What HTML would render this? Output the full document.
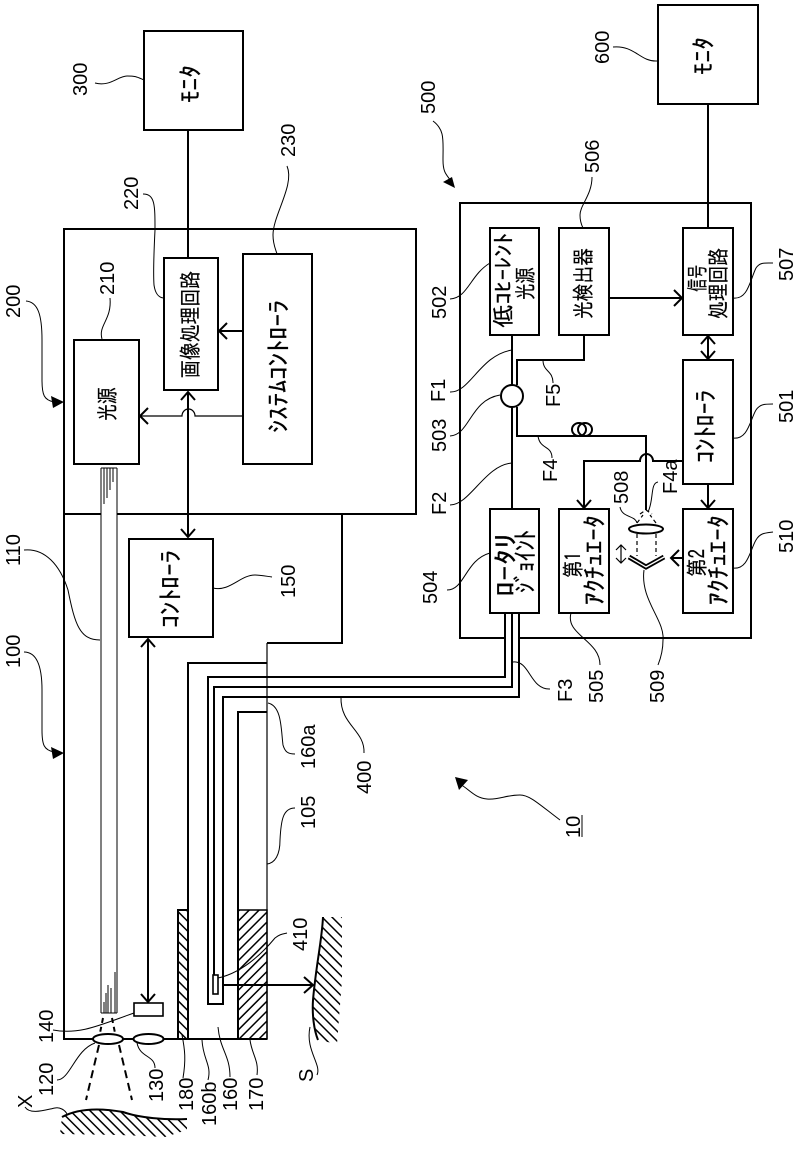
<!DOCTYPE html>
<html><head><meta charset="utf-8">
<style>
html,body{margin:0;padding:0;background:#fff}
svg{display:block}
.n{font-family:"Liberation Sans",sans-serif;font-size:20px;fill:#000}
.j{font-family:"IPAGothic","Noto Sans CJK JP",sans-serif;font-size:22px;fill:#000;stroke:#000;stroke-width:.25}
.k{font-size:25px}
.b{fill:#fff;stroke:#000;stroke-width:2}
.l{fill:none;stroke:#000;stroke-width:2}
.s{fill:none;stroke:#000;stroke-width:1.2}
.t{fill:none;stroke:#000;stroke-width:1}
</style></head><body>
<svg width="793" height="1151" viewBox="0 0 793 1151" xmlns="http://www.w3.org/2000/svg">
<defs>
<pattern id="hb" patternUnits="userSpaceOnUse" width="7" height="7" patternTransform="rotate(45)"><rect width="7" height="1.5" fill="#000"/></pattern>
<pattern id="hf" patternUnits="userSpaceOnUse" width="7" height="7" patternTransform="rotate(-45)"><rect width="7" height="1.5" fill="#000"/></pattern>
</defs>
<rect width="793" height="1151" fill="#fff"/>

<!-- surfaces -->
<path d="M62,1117 C75,1110 95,1107 123,1112 C140,1118 165,1120 187,1119 L187,1130 L165,1137 L120,1135 L60,1134Z" fill="url(#hb)"/>
<path class="l" d="M62,1117 C75,1110 95,1107 123,1112 C140,1118 165,1120 187,1119"/>
<path d="M323,917 C322,940 316,965 313,1000 C312,1015 314,1030 318,1040 L337,1044 L342,980 L342,917Z" fill="url(#hb)"/>
<path class="l" d="M323,917 C322,940 316,965 313,1000 C312,1015 314,1030 318,1040"/>

<!-- hatched blocks -->
<rect x="178" y="910" width="10" height="129" fill="url(#hb)" stroke="#000" stroke-width="2"/>
<rect x="238" y="910" width="29" height="129" fill="url(#hf)" stroke="#000" stroke-width="1.5"/>

<!-- unit 100 / 200 -->
<path class="l" d="M64,229H416V514H64Z"/>
<path class="l" d="M64,514V1039H267"/>
<path class="l" d="M416,514H342V643H267"/>
<path class="s" d="M267,643V1039"/>
<path class="l" d="M267,663H188V1039"/>
<path class="l" d="M267,712H238V1039"/>

<!-- fibre 110 -->
<rect x="101" y="468" width="16" height="545" fill="#fff"/>
<path class="t" d="M101,468V1013M117,468V1013M101,468H117M101,1013H117"/>
<path class="t" d="M104,468V504M107,468V498M110,468V490M113,468V482"/>
<path class="t" d="M104,1013V1002M106,1013V993M108,1013V985M111,1013V988M115,1013V972"/>

<!-- boxes left -->
<rect class="b" x="144" y="31" width="99" height="99"/>
<path class="l" d="M188,130V258"/>
<rect class="b" x="74" y="340" width="65" height="124"/>
<rect class="b" x="164" y="258" width="54" height="132"/>
<rect class="b" x="243" y="254" width="69" height="210"/>
<rect class="b" x="129" y="539" width="84" height="98" stroke-width="1.6"/>
<rect x="134" y="1003" width="29" height="13" fill="#fff" stroke="#000" stroke-width="1.6"/>

<!-- arrows left -->
<path class="l" d="M243,331H220M227,323L219,331L227,339"/>
<path class="s" d="M243,416H195A6.5,7 0 0 0 182,416H141"/>
<path class="l" d="M148,408L140,416L148,424"/>
<path class="l" d="M188,392V537M181,400L188,392L195,400M181,529L188,537L195,529"/>
<path class="l" d="M148,639V1002M141,647L148,639L155,647M141,994L148,1002L155,994"/>

<!-- fibre 400 -->
<path class="l" d="M505,613V677H208V1004H223V697H519V613"/>
<path class="l" d="M512,613V687H214V975"/>
<rect x="213" y="975" width="5" height="19" fill="#fff" stroke="#000" stroke-width="1.6"/>
<path class="l" d="M223,985H312M304,977L313,985L304,993"/>

<!-- lenses -->
<ellipse cx="108" cy="1039" rx="15" ry="5" fill="#fff" stroke="#000" stroke-width="2"/>
<ellipse cx="148.500" cy="1039" rx="15" ry="5" fill="#fff" stroke="#000" stroke-width="2"/>
<path class="l" stroke-dasharray="5 4" d="M103,1018L100,1033M112,1018L115,1033"/>
<path class="l" stroke-dasharray="8 5" d="M99,1045L86,1100M119,1045L132,1100"/>

<!-- unit 500 -->
<path class="l" d="M505,638H460V203H751V638H519"/>
<rect class="b" x="658" y="5" width="100" height="99"/>
<path class="l" d="M708,104V228"/>
<rect class="b" x="490" y="228" width="49" height="107"/>
<rect class="b" x="559" y="228" width="50" height="107"/>
<rect class="b" x="683" y="228" width="50" height="107"/>
<rect class="b" x="683" y="360" width="50" height="124"/>
<rect class="b" x="683" y="509" width="50" height="104"/>
<rect class="b" x="490" y="509" width="49" height="104"/>
<rect class="b" x="559" y="509" width="50" height="104"/>
<path class="l" d="M512,335V509"/>
<path class="l" d="M517,385V360H584V335"/>
<path class="l" d="M517,407V436H646V510"/>
<circle cx="512" cy="396" r="11" fill="#fff" stroke="#000" stroke-width="2"/>
<ellipse cx="579" cy="429.500" rx="7" ry="6.500" fill="none" stroke="#000" stroke-width="2"/>
<ellipse cx="585" cy="429.500" rx="7" ry="6.500" fill="none" stroke="#000" stroke-width="2"/>
<path class="l" d="M609,298H682M674,290L682,298L674,306"/>
<path class="l" d="M708,336V359M701,344L708,336L715,344M701,351L708,359L715,351"/>
<path class="l" d="M708,484V508M701,500L708,508L715,500"/>
<path class="l" d="M683,461H653A6.500,7 0 0 0 640,461H584V508M577,500L584,508L591,500"/>
<path class="l" d="M682,558H671M679,550L671,558L679,566"/>
<path class="s" stroke-width="1.6" d="M621,545V563M616,550L621,545L626,550M616,558L621,563L626,558"/>
<ellipse cx="646" cy="529" rx="17" ry="4.500" fill="#fff" stroke="#000" stroke-width="2"/>
<path class="s" stroke-dasharray="4 3" d="M637,534V556M656,534V556M637,523L643,515M656,523L650,515M640,514L646,510L652,514"/>
<path fill="none" stroke="#000" stroke-width="5" d="M629,557L646,567L664,557"/>
<path fill="none" stroke="#fff" stroke-width="1.300" d="M629,557L646,567L664,557"/>

<!-- leaders -->
<g class="t" fill="none" stroke="#000" stroke-width="1">
<path d="M95,83C110,87 118,76 127,76S137,77 144,80"/>
<path d="M613,47C635,45 640,62 657,61"/>
<path d="M433,121C445,130 443,140 443,160C443,175 448,175 452,183"/>
<path d="M592,177C592,195 580,205 580,215C580,222 582,226 583,228"/>
<path d="M450,299C468,298 470,275 490,263"/>
<path d="M733,298C748,300 750,280 756,268C760,262 765,263 773,263"/>
<path d="M733,438C748,440 750,420 756,410C760,404 765,404 773,404"/>
<path d="M733,568C748,570 750,550 756,540C760,533 765,533 773,532"/>
<path d="M450,392C470,393 480,355 512,350"/>
<path d="M450,436C470,435 470,400 500,395"/>
<path d="M450,505C470,505 485,465 512,463"/>
<path d="M543,360C543,372 553,370 553,383"/>
<path d="M538,436C540,450 552,445 552,458"/>
<path d="M658,482C650,483 654,500 648,512"/>
<path d="M620,507C622,518 635,515 637,523"/>
<path d="M644,570C640,600 665,620 663,640C663,650 660,660 658,665"/>
<path d="M447,590C465,590 465,560 490,553"/>
<path d="M571,613C565,635 600,640 600,665"/>
<path d="M513,662C530,660 530,690 550,689"/>
<path d="M287,166C295,185 273,215 273,235C273,245 276,250 277,254"/>
<path d="M143,194C155,194 155,205 155,230C154,250 153,270 154,285C155,292 158,298 164,298"/>
<path d="M110,298C112,320 98,325 102,339"/>
<path d="M26,301C38,302 42,315 42,340L42,380C42,395 44,400 54,402"/>
<path d="M24,550C45,548 60,565 68,590C75,625 80,640 100,640"/>
<path d="M24,652C36,652 42,665 42,690L42,730C42,745 44,750 54,752"/>
<path d="M213,588C230,592 240,575 255,575C260,575 265,576 272,577"/>
<path d="M268,703C282,706 281,730 283,745C285,752 288,754 295,754"/>
<path d="M341,697C340,725 365,730 364,753"/>
<path d="M295,808C283,808 281,820 280,840C280,855 275,863 267,864"/>
<path d="M560,820C540,805 530,795 520,795C505,795 500,800 487,799C475,798 470,790 460,784"/>
<path d="M53,1030C80,1035 100,1025 134,1013"/>
<path d="M57,1080C70,1080 75,1050 95,1043"/>
<path d="M137,1043C140,1058 155,1055 155,1068"/>
<path d="M182,1035C185,1050 186,1060 183,1078"/>
<path d="M202,1040C203,1060 212,1065 208,1080"/>
<path d="M218,1027C220,1050 230,1055 230,1077"/>
<path d="M250,1040C252,1055 259,1060 257,1075"/>
<path d="M218,978C245,972 265,950 275,938C280,934 283,934 287,933"/>
<path d="M317,1075C322,1065 305,1050 310,1027"/>
<path d="M25,1107C30,1115 45,1110 55,1108C60,1107 65,1110 67,1114"/>
<path d="M582,815V837"/>
</g>
<!-- filled arrowheads -->
<path d="M455,188L443,182L452,177Z"/>
<path d="M64,402L51,396L53,408Z"/>
<path d="M64,753L51,747L53,759Z"/>
<path d="M455,777L468,780L459,790Z"/>

<!-- number labels -->
<g class="n">
<text transform="translate(87,96) rotate(-90)">300</text>
<text transform="translate(609,64) rotate(-90)">600</text>
<text transform="translate(435,114) rotate(-90)">500</text>
<text transform="translate(599,173) rotate(-90)">506</text>
<text transform="translate(295,157) rotate(-90)">230</text>
<text transform="translate(138,210) rotate(-90)">220</text>
<text transform="translate(114,295) rotate(-90)">210</text>
<text transform="translate(20,318) rotate(-90)">200</text>
<text transform="translate(446,319) rotate(-90)">502</text>
<text transform="translate(793,281) rotate(-90)">507</text>
<text transform="translate(793,423) rotate(-90)">501</text>
<text transform="translate(793,553) rotate(-90)">510</text>
<text transform="translate(445,402) rotate(-90)">F1</text>
<text transform="translate(446,452) rotate(-90)">503</text>
<text transform="translate(560,407) rotate(-90)">F5</text>
<text transform="translate(557,482) rotate(-90)">F4</text>
<text transform="translate(677,494) rotate(-90)">F4a</text>
<text transform="translate(628,504) rotate(-90)">508</text>
<text transform="translate(446,515) rotate(-90)">F2</text>
<text transform="translate(437,604) rotate(-90)">504</text>
<text transform="translate(572,702) rotate(-90)">F3</text>
<text transform="translate(603,703) rotate(-90)">505</text>
<text transform="translate(664,703) rotate(-90)">509</text>
<text transform="translate(20,566) rotate(-90)">110</text>
<text transform="translate(20,668) rotate(-90)">100</text>
<text transform="translate(295,598) rotate(-90)">150</text>
<text transform="translate(315,769) rotate(-90)">160a</text>
<text transform="translate(315,829) rotate(-90)">105</text>
<text transform="translate(371,794) rotate(-90)">400</text>
<text transform="translate(580,838) rotate(-90)">10</text>
<text transform="translate(307,951) rotate(-90)">410</text>
<text transform="translate(313,1082) rotate(-90)">S</text>
<text transform="translate(53,1043) rotate(-90)">140</text>
<text transform="translate(53,1096) rotate(-90)">120</text>
<text transform="translate(163,1102) rotate(-90)">130</text>
<text transform="translate(193,1111) rotate(-90)">180</text>
<text transform="translate(216,1126) rotate(-90)">160b</text>
<text transform="translate(237,1111) rotate(-90)">160</text>
<text transform="translate(263,1111) rotate(-90)">170</text>
<text transform="translate(32,1108) rotate(-90)">X</text>
</g>

<!-- japanese labels -->
<g class="j">
<text class="k" transform="translate(199,103) rotate(-90)" textLength="38" lengthAdjust="spacingAndGlyphs">ﾓﾆﾀ</text>
<text class="k" transform="translate(712,75) rotate(-90)" textLength="38" lengthAdjust="spacingAndGlyphs">ﾓﾆﾀ</text>
<text transform="translate(198,378) rotate(-90)" textLength="107" lengthAdjust="spacingAndGlyphs">画像処理回路</text>
<text class="k" transform="translate(287,433) rotate(-90)" textLength="133" lengthAdjust="spacingAndGlyphs">ｼｽﾃﾑｺﾝﾄﾛｰﾗ</text>
<text transform="translate(115,421) rotate(-90)" textLength="34" lengthAdjust="spacingAndGlyphs">光源</text>
<text class="k" transform="translate(179,628) rotate(-90)" textLength="78" lengthAdjust="spacingAndGlyphs">ｺﾝﾄﾛｰﾗ</text>
<text transform="translate(511,328) rotate(-90)" textLength="95" lengthAdjust="spacingAndGlyphs">低ｺﾋｰﾚﾝﾄ</text>
<text transform="translate(533,300) rotate(-90)" textLength="33" lengthAdjust="spacingAndGlyphs">光源</text>
<text transform="translate(591,319) rotate(-90)" textLength="71" lengthAdjust="spacingAndGlyphs">光検出器</text>
<text transform="translate(705,292) rotate(-90)" textLength="27" lengthAdjust="spacingAndGlyphs">信号</text>
<text transform="translate(726,319) rotate(-90)" textLength="71" lengthAdjust="spacingAndGlyphs">処理回路</text>
<text class="k" transform="translate(714,463) rotate(-90)" textLength="73" lengthAdjust="spacingAndGlyphs">ｺﾝﾄﾛｰﾗ</text>
<text class="k" transform="translate(514,597) rotate(-90)" textLength="64" lengthAdjust="spacingAndGlyphs">ﾛｰﾀﾘ</text>
<text class="k" transform="translate(534,593) rotate(-90)" textLength="63" lengthAdjust="spacingAndGlyphs">ｼﾞｮｲﾝﾄ</text>
<text transform="translate(581,578) rotate(-90)" textLength="26" lengthAdjust="spacingAndGlyphs">第1</text>
<text class="k" transform="translate(603,605) rotate(-90)" textLength="90" lengthAdjust="spacingAndGlyphs">ｱｸﾁｭｴｰﾀ</text>
<text transform="translate(705,577) rotate(-90)" textLength="28" lengthAdjust="spacingAndGlyphs">第2</text>
<text class="k" transform="translate(727,605) rotate(-90)" textLength="90" lengthAdjust="spacingAndGlyphs">ｱｸﾁｭｴｰﾀ</text>
</g>
</svg>
</body></html>
